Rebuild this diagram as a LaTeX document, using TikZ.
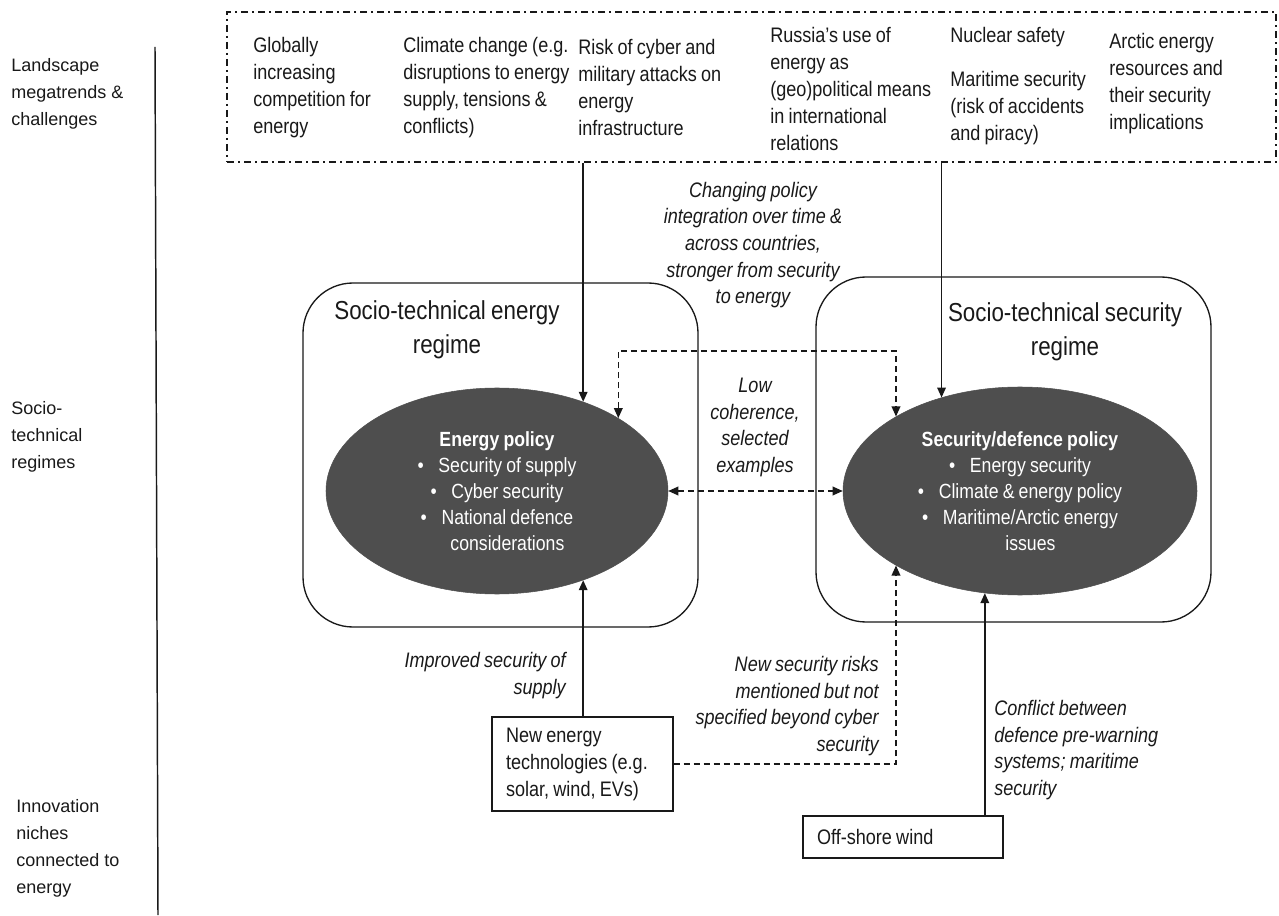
\documentclass[tikz,border=0pt]{standalone}
\usepackage{fontspec}
\setmainfont{Liberation Sans}
\newfontfamily\nar[FakeStretch=0.86,WordSpace=0.85]{Liberation Sans}
\usetikzlibrary{arrows.meta,shapes.geometric}
\definecolor{ellgray}{RGB}{78,78,78}
\definecolor{inkc}{RGB}{25,25,25}
\newcommand{\bul}{\textbullet\hspace{11pt}}
\begin{document}
\begin{tikzpicture}[x=0.75pt,y=-0.75pt,
  ln/.style={line width=1.05pt,draw=inkc},
  arr/.style={ln,-{Triangle[length=7.5pt,width=6.5pt]}},
  darr/.style={line width=1pt,draw=inkc,dash pattern=on 4.5pt off 3pt,-{Triangle[length=7.5pt,width=6.5pt]}},
  ddarr/.style={line width=1pt,draw=inkc,dash pattern=on 4.5pt off 3pt,{Triangle[length=7.5pt,width=6.5pt]}-{Triangle[length=7.5pt,width=6.5pt]}},
  tx/.style={font=\nar\fontsize{15.75pt}{20.25pt}\selectfont,inner sep=0pt,text=inkc},
  itx/.style={font=\nar\itshape\fontsize{15.75pt}{20pt}\selectfont,inner sep=0pt,text=inkc},
  ttl/.style={font=\nar\fontsize{19.5pt}{25.5pt}\selectfont,inner sep=0pt,text=inkc},
  lab/.style={font=\fontsize{13.5pt}{20.25pt}\selectfont,inner sep=0pt,text=inkc,anchor=west,align=left},
  ell/.style={ellipse,fill=ellgray,draw=ellgray,inner sep=0pt,text=white,align=center,
              font=\nar\fontsize{15.4pt}{19.5pt}\selectfont},
  regime/.style={draw=inkc,line width=1pt,rounded corners=37.5pt},
  topbox/.style={draw=inkc,line width=1pt,dash pattern=on 5.25pt off 3pt on 1.5pt off 3pt},
  nbox/.style={draw=inkc,line width=1.05pt,inner xsep=10.5pt,inner ysep=0pt,align=flush left,
               font=\nar\fontsize{15.75pt}{20.25pt}\selectfont,text=inkc}
]
\useasboundingbox (0,0) rectangle (1279,916);

% left axis labels
\node[lab] (a1) at (11,94) {Landscape\\megatrends \&\\challenges};
\node[lab] (a2) at (11,436.5) {Socio-\\technical\\regimes};
\node[lab] (a3) at (16,848) {Innovation\\niches\\connected to\\energy};
\coordinate (ax1) at (155,47);
\coordinate (ax2) at (158,915);
\draw[line width=1.1pt,draw=inkc] (ax1) -- (ax2);

% landscape box
\node[topbox,minimum width=786.75pt,minimum height=112.5pt] (top) at (751.5,87) {};
\node[tx,anchor=west,align=left] (t1) at (253,88) {Globally\\increasing\\competition for\\energy};
\node[tx,anchor=west,align=left] (t2) at (403,88) {Climate change (e.g.\\disruptions to energy\\supply, tensions \&\\conflicts)};
\node[tx,anchor=west,align=left] (t3) at (578,87) {Risk of cyber and\\military attacks on\\energy\\infrastructure};
\node[tx,anchor=west,align=left] (t4) at (770,89) {Russia’s use of\\energy as\\(geo)political means\\in international\\relations};
\node[tx,anchor=west,align=left] (t5) at (950,37) {Nuclear safety};
\node[tx,anchor=west,align=left] (t6) at (950,108) {Maritime security\\(risk of accidents\\and piracy)};
\node[tx,anchor=west,align=left] (t7) at (1109,84) {Arctic energy\\resources and\\their security\\implications};

% regimes
\node[regime,minimum width=296.25pt,minimum height=258pt] (lreg) at (500.5,455) {};
\node[regime,minimum width=296.25pt,minimum height=258.75pt] (rreg) at (1013.5,449.5) {};
\node[ttl,align=center] (lt) at (447,330) {Socio-technical energy\\regime};
\node[ttl,align=center] (rt) at (1065,332) {Socio-technical security\\regime};

\node[ell,minimum width=256.5pt,minimum height=154.5pt] (lell) at (497,491)
  {\textbf{Energy policy}\\\bul Security of supply\\\bul Cyber security\\\bul National defence\\\hphantom{\bul}considerations};
\node[ell,minimum width=265.5pt,minimum height=156pt] (rell) at (1020,491)
  {\textbf{Security/defence policy}\\\bul Energy security\\\bul Climate \& energy policy\\\bul Maritime/Arctic energy\\\hphantom{\bul}issues};

% niches
\node[nbox,minimum width=135.75pt,minimum height=70.5pt,text width=114.75pt] (neb) at (582.5,764)
  {New energy\\technologies (e.g.\\solar, wind, EVs)};
\node[nbox,minimum width=150pt,minimum height=31.5pt,text width=129pt] (osw) at (903,837)
  {Off-shore wind};

% labels
\node[itx,align=center] (l4) at (753,245) {Changing policy\\integration over time \&\\across countries,\\stronger from security\\to energy};
\node[itx,align=center] (l5) at (755,427.5) {Low\\coherence,\\selected\\examples};
\node[itx,anchor=east,align=right] (l1) at (566,675.5) {Improved security of\\supply};
\node[itx,anchor=east,align=right] (l2) at (879,706) {New security risks\\mentioned but not\\specified beyond cyber\\security};
\node[itx,anchor=west,align=left] (l3) at (994,750) {Conflict between\\defence pre-warning\\systems; maritime\\security};

% connectors
\draw[arr] (lell.46.3 |- top.south) -- (lell.46.3);
\draw[arr] (rell.130.35 |- top.south) -- (rell.130.35);
\coordinate (bk) at (756,351);
\draw[ddarr] (lell.31.45) |- (bk) -| (rell.149.1);
\draw[ddarr] (lell.east) -- (rell.west);
\draw[arr] (lell.-46.3 |- neb.north) -- (lell.-46.3);
\draw[darr] (neb.east) -| (rell.-149.1);
\draw[arr] (rell.-109.5 |- osw.north) -- (rell.-109.5);
\end{tikzpicture}
\end{document}
